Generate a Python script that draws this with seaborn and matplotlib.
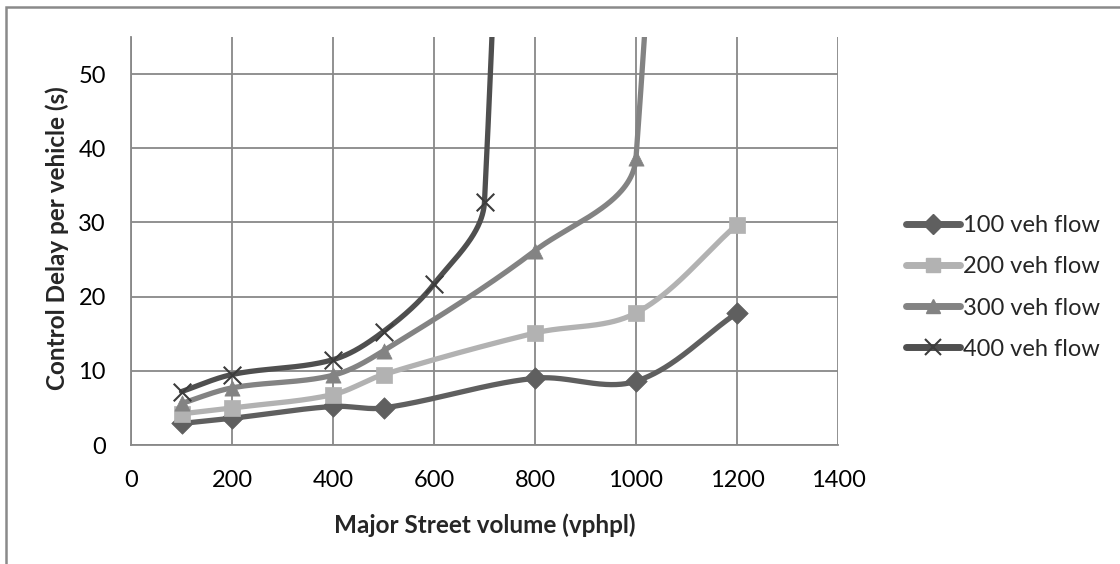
import numpy as np
import pandas as pd
import matplotlib
matplotlib.use("Agg")
import matplotlib.pyplot as plt
import seaborn as sns
from matplotlib.lines import Line2D
from matplotlib.patches import Rectangle

# ---- data ----
series_names = ["100 veh flow", "200 veh flow", "300 veh flow", "400 veh flow"]
x_100 = [100, 200, 400, 500, 800, 1000, 1200]
y_100 = [2.9, 3.6, 5.2, 5.0, 9.0, 8.6, 17.8]
x_200 = [100, 200, 400, 500, 800, 1000, 1200]
y_200 = [4.2, 5.0, 6.8, 9.5, 15.1, 17.8, 29.7]
x_300 = [100, 200, 400, 500, 800, 1000, 1200]
y_300 = [5.6, 7.7, 9.4, 12.7, 26.2, 38.7, 400.0]
x_400 = [100, 200, 400, 500, 600, 700, 800]
y_400 = [7.2, 9.5, 11.5, 15.3, 21.7, 32.8, 300.0]
x_ticks = [0, 200, 400, 600, 800, 1000, 1200, 1400]
y_ticks = [0, 10, 20, 30, 40, 50]

colors = ["#5f5f5f", "#b2b2b2", "#838383", "#4f4f4f"]
markers = ["D", "s", "^", "x"]

XMAX, YMAX = 1400, 55
FIG_W, FIG_H = 1120, 564
AX_L, AX_R, AX_T, AX_B = 131, 838, 37, 445
SX = (AX_R - AX_L) / XMAX
SY = (AX_B - AX_T) / YMAX


def excel_smooth(xs, ys, n=80):
    P = np.column_stack([np.asarray(xs, float) * SX, np.asarray(ys, float) * SY])
    out = []
    for i in range(len(P) - 1):
        p0 = P[i - 1] if i > 0 else P[i]
        p1, p2 = P[i], P[i + 1]
        p3 = P[i + 2] if i + 2 < len(P) else P[i + 1]
        d12 = np.linalg.norm(p2 - p1)
        t1 = p2 - p0
        t1 = t1 / np.linalg.norm(t1)
        t2 = p3 - p1
        t2 = t2 / np.linalg.norm(t2)
        c1 = p1 + t1 * d12 / 3.0
        c2 = p2 - t2 * d12 / 3.0
        t = np.linspace(0, 1, n)[:, None]
        b = ((1 - t) ** 3) * p1 + 3 * ((1 - t) ** 2) * t * c1 + 3 * (1 - t) * t ** 2 * c2 + t ** 3 * p2
        if i > 0:
            b = b[1:]
        out.append(b)
    B = np.vstack(out)
    return B[:, 0] / SX, B[:, 1] / SY


sns.set_theme(style="white")
plt.rcParams["font.family"] = ["Lato", "DejaVu Sans"]

fig = plt.figure(figsize=(FIG_W / 100, FIG_H / 100), dpi=100)
ax = fig.add_axes([AX_L / FIG_W, 1 - AX_B / FIG_H, (AX_R - AX_L) / FIG_W, (AX_B - AX_T) / FIG_H])

all_x = [x_100, x_200, x_300, x_400]
all_y = [y_100, y_200, y_300, y_400]

for k, (name, xs, ys) in enumerate(zip(series_names, all_x, all_y)):
    cx, cy = excel_smooth(xs, ys)
    curve = pd.DataFrame({"x": cx, "y": cy})
    sns.lineplot(data=curve, x="x", y="y", sort=False, estimator=None, ax=ax,
                 color=colors[k], linewidth=3.8, zorder=3 + k, legend=False)
    pts = pd.DataFrame({"x": xs, "y": ys})
    pts = pts[pts["y"] <= YMAX]
    if markers[k] == "x":
        sns.scatterplot(data=pts, x="x", y="y", ax=ax, marker="x", s=160,
                        color="#3c3c3c", linewidth=1.5, zorder=3.5 + k, legend=False)
    else:
        sns.scatterplot(data=pts, x="x", y="y", ax=ax, marker=markers[k], s=120,
                        color=colors[k], edgecolor=colors[k], linewidth=0.5,
                        zorder=3.5 + k, legend=False)

ax.set_xlim(0, XMAX)
ax.set_ylim(0, YMAX)
ax.set_xticks(x_ticks)
ax.set_yticks(y_ticks)
ax.set_xticklabels([str(v) for v in x_ticks])
ax.set_yticklabels([str(v) for v in y_ticks])
ax.grid(True, color="#888888", linewidth=1.3)
ax.set_axisbelow(True)
for side in ["top", "right"]:
    ax.spines[side].set_visible(False)
for side in ["left", "bottom"]:
    ax.spines[side].set_color("#888888")
    ax.spines[side].set_linewidth(1.3)
ax.tick_params(axis="both", length=0, labelsize=17, colors="black")
ax.tick_params(axis="y", pad=18)
ax.tick_params(axis="x", pad=18)

ax.set_xlabel("Major Street volume (vphpl)", fontsize=17.5, fontweight="bold")
ax.set_ylabel("Control Delay per vehicle (s)", fontsize=17.5, fontweight="bold")
ax.xaxis.label.set_verticalalignment("center")
ax.yaxis.label.set_verticalalignment("center")
ax.xaxis.set_label_coords(0.5, (AX_B - 525) / (AX_B - AX_T))
ax.yaxis.set_label_coords((57 - AX_L) / (AX_R - AX_L), (AX_B - 238) / (AX_B - AX_T))

handles = []
for k in range(4):
    if markers[k] == "x":
        h = Line2D([0], [0], color=colors[k], linewidth=5, marker="x", markersize=12,
                   markeredgecolor="#3c3c3c", markeredgewidth=1.5, solid_capstyle="round")
    else:
        h = Line2D([0], [0], color=colors[k], linewidth=5, marker=markers[k], markersize=10.5,
                   markeredgecolor=colors[k], markerfacecolor=colors[k], solid_capstyle="round")
    handles.append(h)
fig.legend(handles, series_names, loc="center left", bbox_to_anchor=(906 / FIG_W, 1 - 287.5 / FIG_H),
           frameon=False, fontsize=17, handlelength=2.3, handletextpad=0.12, labelspacing=0.85,
           borderaxespad=0, borderpad=0)

fig.patches.append(Rectangle((6 / FIG_W, -0.1), 1.2, (FIG_H - 7) / FIG_H + 0.1,
                             transform=fig.transFigure, fill=False, edgecolor="#8a8a8a",
                             linewidth=1.8, figure=fig))

fig.savefig("out.png", dpi=100)
